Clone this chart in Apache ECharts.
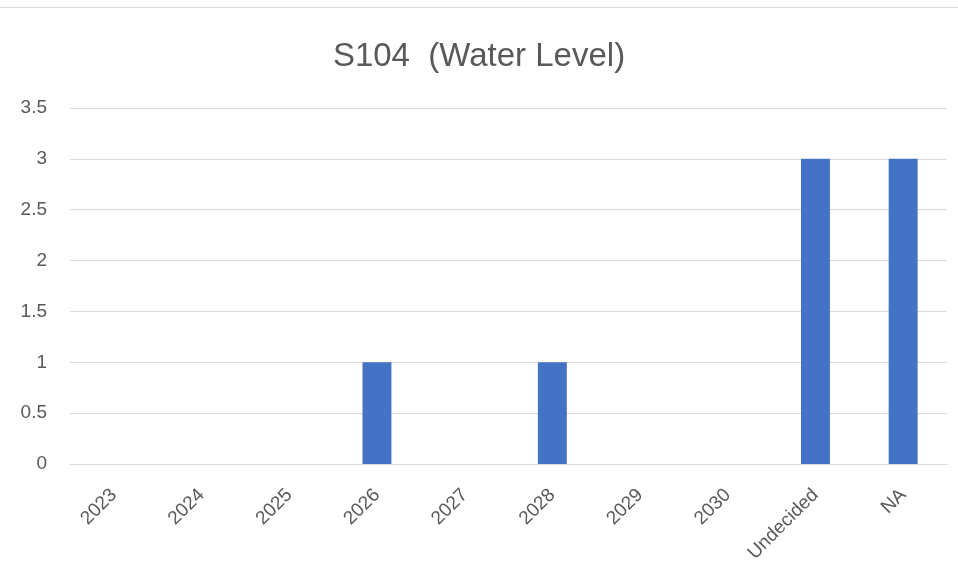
<!DOCTYPE html>
<html>
<head>
<meta charset="utf-8">
<script src="https://cdn.jsdelivr.net/npm/echarts@6/dist/echarts.min.js"></script>
<style>
  html, body { margin: 0; padding: 0; background: #fff; }
  #frame { width: 958px; height: 575px; position: relative; }
  #topline { position: absolute; left: 0; top: 7px; width: 958px; height: 0; border-top: 1px solid #d9d9d9; }
  #chart { width: 958px; height: 575px; }
</style>
</head>
<body>
<div id="frame">
  <div id="chart"></div>
  <div id="topline"></div>
</div>
<script>
// categories on the x axis
const categories = ['2023', '2024', '2025', '2026', '2027', '2028', '2029', '2030', 'Undecided', 'NA'];
// counts per category
const counts = [0, 0, 0, 1, 0, 1, 0, 0, 3, 3];

const chart = echarts.init(document.getElementById('chart'));
const fontFamily = 'Liberation Sans, Arial, sans-serif';

const option = {
     backgroundColor: '#FFFFFF',
     animation: false,
     title: {
          text: 'S104  (Water Level)',
          left: 'center',
          top: 35,
          textStyle: { fontSize: 33, fontWeight: 'normal', color: '#595959', fontFamily: fontFamily },
     },
     grid: {
          left: 70,
          right: 11,
          top: 108,
          bottom: 111,
     },
     xAxis: {
          type: 'category',
          data: categories,
          axisLine: { show: true, lineStyle: { color: '#d9d9d9', width: 1 } },
          axisTick: { show: false },
          axisLabel: {
               rotate: 45,
               interval: 0,
               margin: 28,
               fontSize: 19,
               color: '#595959',
               fontFamily: fontFamily,
          },
     },
     yAxis: {
          type: 'value',
          min: 0,
          max: 3.5,
          interval: 0.5,
          axisLine: { show: false },
          axisTick: { show: false },
          splitLine: { lineStyle: { color: '#d9d9d9', width: 1 } },
          axisLabel: {
               margin: 23,
               fontSize: 19,
               color: '#595959',
               fontFamily: fontFamily,
          },
     },
     series: [
          {
               type: 'bar',
               data: counts,
               barWidth: '33%',
               itemStyle: { color: '#4472C4' },
          },
     ],
};

chart.setOption(option);
</script>
</body>
</html>
